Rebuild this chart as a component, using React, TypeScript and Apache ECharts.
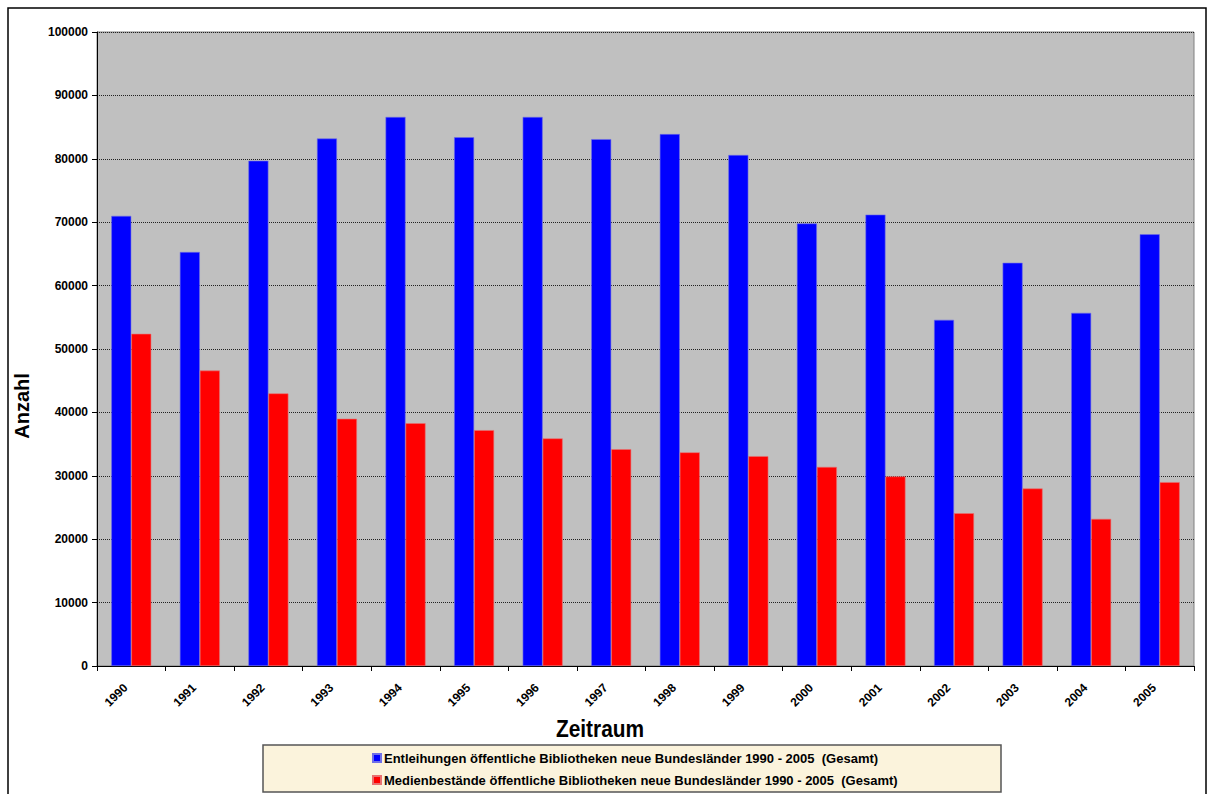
import React, { useEffect, useRef } from "react";
import * as echarts from "echarts";

const years = ["1990", "1991", "1992", "1993", "1994", "1995", "1996", "1997", "1998", "1999", "2000", "2001", "2002", "2003", "2004", "2005"];
const entleihungen = [71000, 65300, 79700, 83200, 86600, 83400, 86600, 83100, 83900, 80600, 69800, 71200, 54600, 63600, 55700, 68100];
const medienbestaende = [52400, 46600, 43000, 39000, 38300, 37200, 35900, 34200, 33700, 33100, 31400, 29900, 24100, 28000, 23200, 29000];
const seriesNames = [
  "Entleihungen öffentliche Bibliotheken neue Bundesländer 1990 - 2005  (Gesamt)",
  "Medienbestände öffentliche Bibliotheken neue Bundesländer 1990 - 2005  (Gesamt)",
];
const xTitle = "Zeitraum";
const yTitle = "Anzahl";

const ARIAL = "'Liberation Sans', Arial, sans-serif";

export default function App() {
  const ref = useRef<HTMLDivElement>(null);
  useEffect(() => {
    if (!ref.current) return;
    const chart = echarts.init(ref.current, undefined, { renderer: "svg" });
    chart.setOption({
      animation: false,
      backgroundColor: "#ffffff",
      grid: {
        left: 97,
        right: 16,
        top: 32,
        bottom: 128,
        show: true,
        backgroundColor: "#C0C0C0",
        borderColor: "#808080",
        borderWidth: 1,
      },
      graphic: [
        {
          type: "rect",
          shape: { x: 8, y: 8, width: 1198, height: 800 },
          style: { fill: "none", stroke: "#000", lineWidth: 1.5 },
          silent: true,
          z: -10,
        },
        {
          type: "rect",
          shape: { x: 263, y: 745, width: 738, height: 47 },
          style: { fill: "#FBF3DC", stroke: "#555", lineWidth: 1.5 },
          silent: true,
          z: -5,
        },
        {
          type: "text",
          x: 600,
          y: 729,
          scaleX: 0.87,
          style: {
            text: xTitle,
            font: `bold 24px ${ARIAL}`,
            fill: "#000",
            align: "center",
            verticalAlign: "middle",
          },
        },
        {
          type: "text",
          x: 22,
          y: 406,
          rotation: Math.PI / 2,
          style: {
            text: yTitle,
            font: `bold 20px ${ARIAL}`,
            fill: "#000",
            align: "center",
            verticalAlign: "middle",
          },
        },
      ],
      legend: {
        orient: "vertical",
        left: 372,
        top: 751,
        padding: 0,
        itemWidth: 8,
        itemHeight: 8,
        itemGap: 8,
        icon: "rect",
        data: seriesNames,
        textStyle: {
          fontFamily: ARIAL,
          fontWeight: "bold",
          fontSize: 13,
          lineHeight: 14,
          color: "#000",
          padding: [0, 0, 0, -2],
        },
      },
      xAxis: {
        type: "category",
        data: years,
        boundaryGap: true,
        axisLine: { lineStyle: { color: "#000", width: 1 } },
        axisTick: { show: true, length: 5, lineStyle: { color: "#000" } },
        axisLabel: {
          rotate: 45,
          margin: 14,
          padding: [0, 8, 0, 0],
          fontFamily: ARIAL,
          fontWeight: "bold",
          fontSize: 12,
          color: "#000",
        },
        splitLine: { show: false },
      },
      yAxis: {
        type: "value",
        min: 0,
        max: 100000,
        interval: 10000,
        axisLine: { show: true, lineStyle: { color: "#000", width: 1 } },
        axisTick: { show: true, length: 5, lineStyle: { color: "#000" } },
        axisLabel: {
          margin: 9,
          fontFamily: ARIAL,
          fontWeight: "bold",
          fontSize: 12,
          color: "#000",
          formatter: (v: number) => String(v),
        },
        splitLine: { show: true, lineStyle: { color: "#222", type: [1, 1], width: 1 } },
      },
      series: [
        {
          name: seriesNames[0],
          type: "bar",
          data: entleihungen,
          barWidth: 20,
          barGap: "0%",
          itemStyle: { color: "#0000FF", borderColor: "#6f6fe8", borderWidth: 0.6 },
        },
        {
          name: seriesNames[1],
          type: "bar",
          data: medienbestaende,
          barWidth: 20,
          barGap: "0%",
          itemStyle: { color: "#FF0000", borderColor: "#e87070", borderWidth: 0.6 },
        },
      ],
    });
    return () => chart.dispose();
  }, []);
  return (
    <div
      ref={ref}
      style={{ position: "absolute", left: 0, top: 0, width: 1210, height: 794 }}
    />
  );
}
